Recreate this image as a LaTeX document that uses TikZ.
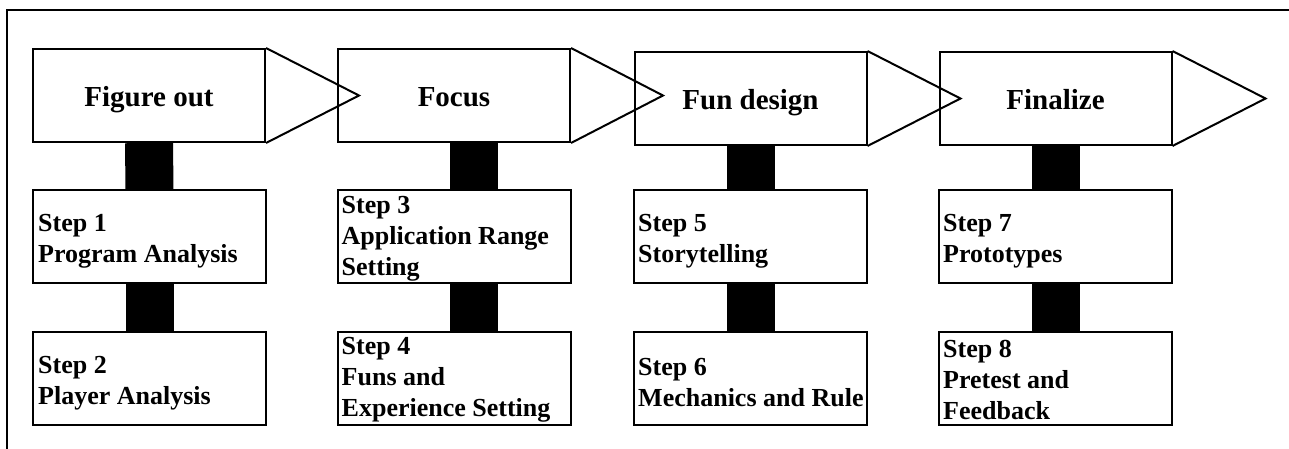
\documentclass[tikz,border=0pt]{standalone}
\usepackage{fontspec}
\setmainfont{Liberation Serif}
\usetikzlibrary{positioning}

\begin{document}
\begin{tikzpicture}[
x=1pt,y=-1pt,
head/.style={
  draw,
  line width=2pt,
  minimum width=232pt,
  minimum height=93pt,
  inner sep=0pt,
  text height=25pt,
  text depth=4pt,
  font=\fontsize{29}{34}\selectfont\bfseries
},
stepbox/.style={
  draw,
  line width=2pt,
  minimum width=233pt,
  minimum height=93pt,
  inner sep=0pt
},
steptext/.style={
  anchor=west,
  align=left,
  inner sep=0pt,
  font=\fontsize{26}{31}\selectfont\bfseries
},
bar/.style={line width=48pt},
pointer/.style={line width=2pt,line join=miter}
]
\clip (0,0) rectangle (1289,448);
\draw[line width=2pt] (7,10) rectangle (1289.6,470);

% phases
\node[head] (fig) at (149,95.5) {Figure out};
\node[head] (foc) at (454,95.5) {Focus};
\node[head] (fun) at (750.5,98.5) {Fun design};
\node[head] (fin) at (1055.5,98.5) {Finalize};

\draw[pointer] (fig.north east) -- ([xshift=93pt]fig.east) -- (fig.south east);
\draw[pointer] (foc.north east) -- ([xshift=92pt]foc.east) -- (foc.south east);
\draw[pointer] (fun.north east) -- ([xshift=93pt]fun.east) -- (fun.south east);
\draw[pointer] (fin.north east) -- ([xshift=93pt]fin.east) -- (fin.south east);

% steps
\node[stepbox] (s1) at (149.5,236.5) {};
\node[stepbox] (s2) at (149.5,378) {};
\node[stepbox] (s3) at (454,236.5) {};
\node[stepbox] (s4) at (454,378) {};
\node[stepbox] (s5) at (750.5,236.5) {};
\node[stepbox] (s6) at (750.5,378) {};
\node[stepbox] (s7) at (1055.5,236.5) {};
\node[stepbox] (s8) at (1055.5,378) {};

\node[steptext] (t1) at ([xshift=6pt,yshift=-5pt]s1.west) {Step 1\\Program Analysis};
\node[steptext] (t2) at ([xshift=6pt,yshift=-5pt]s2.west) {Step 2\\Player Analysis};
\node[steptext] (t3) at ([xshift=5pt,yshift=-2pt]s3.west) {Step 3\\Application Range\\Setting};
\node[steptext] (t4) at ([xshift=5pt,yshift=-2pt]s4.west) {Step 4\\Funs and\\Experience Setting};
\node[steptext] (t5) at ([xshift=5pt,yshift=-5pt]s5.west) {Step 5\\Storytelling};
\node[steptext] (t6) at ([xshift=5pt,yshift=-5pt]s6.west) {Step 6\\Mechanics and Rule};
\node[steptext] (t7) at ([xshift=5pt,yshift=-5pt]s7.west) {Step 7\\Prototypes};
\node[steptext] (t8) at ([xshift=5pt,yshift=-2pt]s8.west) {Step 8\\Pretest and\\Feedback};

% links
\draw[bar] (fig.south) -- (s1.north);
\draw[bar] (s1.south) -- (s2.north);
\draw[bar] ([xshift=19.5pt]foc.south) -- ([xshift=19.5pt]s3.north);
\draw[bar] ([xshift=19.5pt]s3.south) -- ([xshift=19.5pt]s4.north);
\draw[bar] (fun.south) -- (s5.north);
\draw[bar] (s5.south) -- (s6.north);
\draw[bar] (fin.south) -- (s7.north);
\draw[bar] (s7.south) -- (s8.north);
\end{tikzpicture}
\end{document}
